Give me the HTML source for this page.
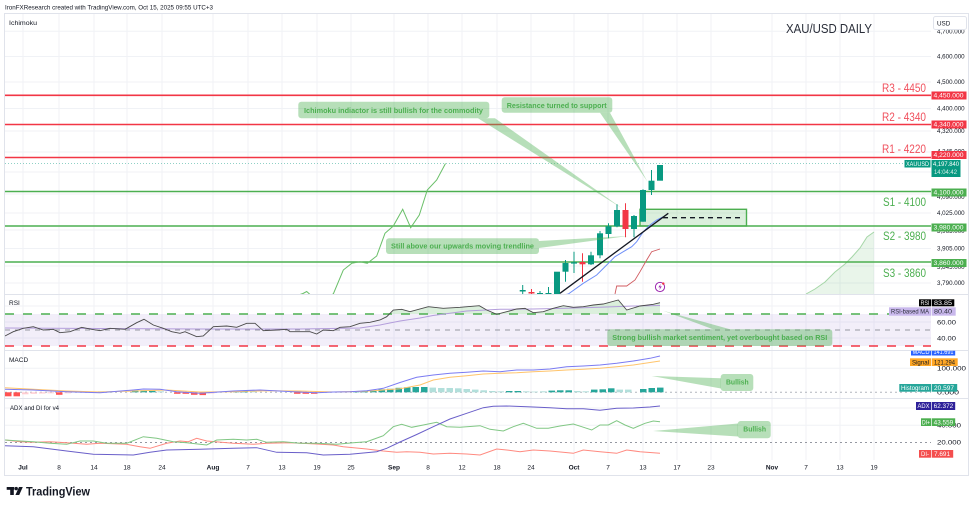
<!DOCTYPE html>
<html><head><meta charset="utf-8">
<style>
html,body{margin:0;padding:0;background:#fff;}
svg{display:block;font-family:"Liberation Sans",Arial,sans-serif;}
</style></head><body>
<svg width="975" height="507" viewBox="0 0 975 507" xmlns="http://www.w3.org/2000/svg">
<defs>
<clipPath id="main"><rect x="5" y="14" width="926" height="280"/></clipPath>
<clipPath id="rsi"><rect x="5" y="295" width="926" height="55"/></clipPath>
<clipPath id="ob"><rect x="5" y="295" width="926" height="19"/></clipPath>
<clipPath id="macdlab"><rect x="880" y="350.8" width="90" height="20"/></clipPath>
</defs>
<rect width="975" height="507" fill="#fff"/>
<text x="5" y="9.5" font-size="6.5" fill="#131722" textLength="208" lengthAdjust="spacingAndGlyphs">IronFXResearch created with TradingView.com, Oct 15, 2025 09:55 UTC+3</text>

<!-- frame -->
<rect x="4.5" y="13.5" width="964" height="462" fill="none" stroke="#e0e3eb" stroke-width="1"/>

<!-- vertical grid -->
<g stroke="#f0f2f6" stroke-width="1">
<line x1="23" y1="14" x2="23" y2="460"/><line x1="59" y1="14" x2="59" y2="460"/><line x1="94" y1="14" x2="94" y2="460"/><line x1="127" y1="14" x2="127" y2="460"/><line x1="162" y1="14" x2="162" y2="460"/><line x1="213" y1="14" x2="213" y2="460"/><line x1="248" y1="14" x2="248" y2="460"/><line x1="282" y1="14" x2="282" y2="460"/><line x1="317" y1="14" x2="317" y2="460"/><line x1="351" y1="14" x2="351" y2="460"/><line x1="394" y1="14" x2="394" y2="460"/><line x1="428" y1="14" x2="428" y2="460"/><line x1="462" y1="14" x2="462" y2="460"/><line x1="497" y1="14" x2="497" y2="460"/><line x1="531" y1="14" x2="531" y2="460"/><line x1="574" y1="14" x2="574" y2="460"/><line x1="608" y1="14" x2="608" y2="460"/><line x1="643" y1="14" x2="643" y2="460"/><line x1="677" y1="14" x2="677" y2="460"/><line x1="711" y1="14" x2="711" y2="460"/><line x1="772" y1="14" x2="772" y2="460"/><line x1="806" y1="14" x2="806" y2="460"/><line x1="840" y1="14" x2="840" y2="460"/><line x1="874" y1="14" x2="874" y2="460"/>
</g>
<!-- horizontal grid -->
<g stroke="#f0f2f6" stroke-width="1">
<line x1="5" y1="31.3" x2="931" y2="31.3"/><line x1="5" y1="56.5" x2="931" y2="56.5"/><line x1="5" y1="82" x2="931" y2="82"/><line x1="5" y1="108.5" x2="931" y2="108.5"/><line x1="5" y1="131" x2="931" y2="131"/><line x1="5" y1="152" x2="931" y2="152"/><line x1="5" y1="172" x2="931" y2="172"/><line x1="5" y1="194" x2="931" y2="194"/><line x1="5" y1="213" x2="931" y2="213"/><line x1="5" y1="230" x2="931" y2="230"/><line x1="5" y1="248.5" x2="931" y2="248.5"/><line x1="5" y1="266" x2="931" y2="266"/><line x1="5" y1="283" x2="931" y2="283"/>
<line x1="5" y1="306" x2="931" y2="306"/><line x1="5" y1="322" x2="931" y2="322"/><line x1="5" y1="338" x2="931" y2="338"/>
<line x1="5" y1="368.3" x2="931" y2="368.3"/>
<line x1="5" y1="408" x2="931" y2="408"/><line x1="5" y1="425.3" x2="931" y2="425.3"/>
</g>
<!-- pane separators -->
<g stroke="#e0e3eb" stroke-width="1">
<line x1="5" y1="294.5" x2="968" y2="294.5"/>
<line x1="5" y1="350.5" x2="968" y2="350.5"/>
<line x1="5" y1="398.5" x2="968" y2="398.5"/>
</g>

<!-- ===== MAIN PANE ===== -->
<text x="9" y="25" font-size="6.8" fill="#131722" textLength="28" lengthAdjust="spacingAndGlyphs">Ichimoku</text>
<text x="786" y="33" font-size="13" fill="#2a2e39" textLength="86" lengthAdjust="spacingAndGlyphs">XAU/USD DAILY</text>

<g clip-path="url(#main)">
<!-- cloud -->
<polygon points="806,294 815,289 825,282 835,272 845,264 852,257 860,248 867,237 874,232 874,294" fill="rgba(76,175,80,0.12)"/>
<polyline points="806,294 815,289 825,282 835,272 845,264 852,257 860,248 867,237 874,232" fill="none" stroke="#a5d6a7" stroke-width="1"/>
<!-- price line -->
<line x1="5" y1="163.5" x2="931" y2="163.5" stroke="#089981" stroke-opacity="0.45" stroke-width="1" stroke-dasharray="1 2"/>
<!-- level lines -->
<g stroke-width="1.6">
<line x1="5" y1="95.3" x2="931" y2="95.3" stroke="#f23645"/>
<line x1="5" y1="124.5" x2="931" y2="124.5" stroke="#f23645"/>
<line x1="5" y1="157.5" x2="931" y2="157.5" stroke="#f23645"/>
<line x1="5" y1="191.5" x2="931" y2="191.5" stroke="#4caf50"/>
<line x1="5" y1="226" x2="931" y2="226" stroke="#4caf50"/>
<line x1="5" y1="262" x2="931" y2="262" stroke="#4caf50"/>
</g>
<!-- lagging span -->
<polyline points="300,294.5 303,293.5 306.7,291.5 310,294.5" fill="none" stroke="#6abf69" stroke-width="1"/>
<polyline points="332,294.5 333.3,294 343.3,270 351.7,263.3 360,261.7 367.3,263.3 376.7,256 385,233.3 393.3,226 402.7,209.3 410.7,227.7 419.3,215 427.3,190 436.7,180 445.5,163.5" fill="none" stroke="#6abf69" stroke-width="1"/>
<!-- green box zone -->
<rect x="640" y="209.3" width="106.5" height="16.7" fill="rgba(76,175,80,0.2)" stroke="#4caf50" stroke-width="1.4"/>
<line x1="663" y1="217.7" x2="740" y2="217.7" stroke="#131722" stroke-width="1.3" stroke-dasharray="5 4"/>
<!-- red base line -->
<polyline points="615,294 616.7,286 626.7,286 635,280 640,271.7 646.7,260 651.7,251.7 660,249" fill="none" stroke="#d05a5f" stroke-width="0.9"/>
<!-- blue conversion line -->
<polyline points="566,294.5 568.3,294 583.3,283.3 596.7,275 606.7,265 615,256.7 623.3,251.7 631.7,246.7 636.7,241.7 643.3,231.7 650,225 656.7,220 663.3,216.7" fill="none" stroke="#6f8ff8" stroke-width="1"/>
<!-- candles -->
<g stroke-width="1">
<line x1="522.7" y1="285" x2="522.7" y2="294" stroke="#089981"/><rect x="519.7" y="290" width="6" height="1.5" fill="#089981"/>
<line x1="531.5" y1="289" x2="531.5" y2="294" stroke="#f23645"/><rect x="528.5" y="292" width="6" height="1.5" fill="#f23645"/>
<line x1="540" y1="291" x2="540" y2="294" stroke="#089981"/><rect x="537" y="293" width="6" height="1" fill="#089981"/>
<line x1="548.5" y1="287" x2="548.5" y2="294" stroke="#089981"/><rect x="545.5" y="293" width="6" height="1" fill="#089981"/>
<rect x="554" y="271.7" width="6" height="22.3" fill="#089981"/>
<line x1="565.5" y1="260" x2="565.5" y2="281.7" stroke="#089981"/><rect x="562.5" y="263" width="6" height="8.7" fill="#089981"/>
<line x1="574" y1="251.7" x2="574" y2="273" stroke="#089981"/><rect x="571" y="262.3" width="6" height="1.3" fill="#089981"/>
<line x1="582.5" y1="253.3" x2="582.5" y2="281.7" stroke="#f23645"/><rect x="579.5" y="262" width="6" height="2.3" fill="#f23645"/>
<line x1="591" y1="251.7" x2="591" y2="265" stroke="#089981"/><rect x="588" y="255.3" width="6" height="9" fill="#089981"/>
<line x1="600" y1="231" x2="600" y2="258.3" stroke="#089981"/><rect x="597" y="233.3" width="6" height="22" fill="#089981"/>
<line x1="608.5" y1="223.3" x2="608.5" y2="238.3" stroke="#089981"/><rect x="605.5" y="226.3" width="6" height="7.7" fill="#089981"/>
<line x1="617" y1="204.3" x2="617" y2="227.3" stroke="#089981"/><rect x="614" y="210" width="6" height="16.3" fill="#089981"/>
<line x1="625.5" y1="203.3" x2="625.5" y2="237.3" stroke="#f23645"/><rect x="622.5" y="210" width="6" height="19" fill="#f23645"/>
<line x1="634" y1="215" x2="634" y2="237.3" stroke="#089981"/><rect x="631" y="216" width="6" height="13" fill="#089981"/>
<line x1="643" y1="189.3" x2="643" y2="221.7" stroke="#089981"/><rect x="640" y="190" width="6" height="31.7" fill="#089981"/>
<line x1="651.5" y1="170" x2="651.5" y2="195" stroke="#089981"/><rect x="648.5" y="180.7" width="6" height="9.3" fill="#089981"/>
<rect x="657" y="165" width="6" height="15.7" fill="#089981"/>
</g>
<!-- trendline -->
<line x1="560" y1="293.3" x2="668.3" y2="213.3" stroke="#131722" stroke-width="1.3"/>
<!-- icon -->
<circle cx="660" cy="287" r="4.6" fill="#fff" stroke="#9c27b0" stroke-width="1"/>
<path d="M660.8 283.8 L658.4 287.4 L660.2 287.4 L659.2 290.2 L661.8 286.4 L660 286.4 Z" fill="#9c27b0"/>
<circle cx="663.3" cy="283.6" r="1.2" fill="#f23645"/>
</g>

<!-- level labels -->
<text x="882" y="92" font-size="11.5" fill="#f0505d" textLength="44" lengthAdjust="spacingAndGlyphs">R3 - 4450</text>
<text x="882" y="121" font-size="11.5" fill="#f0505d" textLength="44" lengthAdjust="spacingAndGlyphs">R2 - 4340</text>
<text x="882" y="153" font-size="11.5" fill="#f0505d" textLength="44" lengthAdjust="spacingAndGlyphs">R1 - 4220</text>
<text x="883" y="206" font-size="11.5" fill="#4caf50" textLength="43" lengthAdjust="spacingAndGlyphs">S1 - 4100</text>
<text x="883" y="240" font-size="11.5" fill="#4caf50" textLength="43" lengthAdjust="spacingAndGlyphs">S2 - 3980</text>
<text x="883" y="277" font-size="11.5" fill="#4caf50" textLength="43" lengthAdjust="spacingAndGlyphs">S3 - 3860</text>

<!-- annotations main -->
<g fill="rgba(76,175,80,0.4)">
<polygon points="478,118.3 495,118.3 622,208.3"/>
<rect x="298.3" y="101.7" width="191" height="16.6" rx="3"/>
<polygon points="600,112.7 610,112.7 647.5,181.7"/>
<rect x="501.7" y="97.3" width="110.6" height="15.4" rx="3"/>
<polygon points="539,241 539,248 628,236"/>
<rect x="386" y="238.3" width="153" height="15.7" rx="3"/>
</g>
<g font-size="7.6" font-weight="bold" fill="#4caf50">
<text x="304" y="112.8" textLength="179" lengthAdjust="spacingAndGlyphs">Ichimoku indiactor is still bullish for the commodity</text>
<text x="506.7" y="107.8" textLength="100" lengthAdjust="spacingAndGlyphs">Resistance turned to support</text>
<text x="391" y="248.5" textLength="143" lengthAdjust="spacingAndGlyphs">Still above our upwards moving trendline</text>
</g>

<!-- main price axis labels -->
<g font-size="6.3" fill="#131722">
<text x="937" y="33.5" textLength="27.6" lengthAdjust="spacingAndGlyphs">4,700.000</text>
<text x="937" y="58.7" textLength="27.6" lengthAdjust="spacingAndGlyphs">4,600.000</text>
<text x="937" y="84.2" textLength="27.6" lengthAdjust="spacingAndGlyphs">4,500.000</text>
<text x="937" y="110.7" textLength="27.6" lengthAdjust="spacingAndGlyphs">4,400.000</text>
<text x="937" y="133" textLength="27.6" lengthAdjust="spacingAndGlyphs">4,320.000</text>
<text x="937" y="153.5" textLength="27.6" lengthAdjust="spacingAndGlyphs">4,245.000</text>
<text x="937" y="199" textLength="27.6" lengthAdjust="spacingAndGlyphs">4,090.000</text>
<text x="937" y="215.2" textLength="27.6" lengthAdjust="spacingAndGlyphs">4,025.000</text>
<text x="937" y="233" textLength="27.6" lengthAdjust="spacingAndGlyphs">3,965.000</text>
<text x="937" y="250.7" textLength="27.6" lengthAdjust="spacingAndGlyphs">3,905.000</text>
<text x="937" y="269" textLength="27.6" lengthAdjust="spacingAndGlyphs">3,845.000</text>
<text x="937" y="285.2" textLength="27.6" lengthAdjust="spacingAndGlyphs">3,790.000</text>
</g>
<rect x="933.5" y="16.5" width="33" height="13" rx="2" fill="#fff" stroke="#e0e3eb"/>
<text x="937" y="25.3" font-size="6.3" fill="#131722">USD</text>

<g font-size="6.3" fill="#fff">
<rect x="931.5" y="91.5" width="35" height="8" fill="#f23645"/><text x="933.5" y="97.7" textLength="30" lengthAdjust="spacingAndGlyphs">4,450.000</text>
<rect x="931.5" y="120.5" width="35" height="8" fill="#f23645"/><text x="933.5" y="126.7" textLength="30" lengthAdjust="spacingAndGlyphs">4,340.000</text>
<rect x="931.5" y="151" width="35" height="8" fill="#f23645"/><text x="933.5" y="157.2" textLength="30" lengthAdjust="spacingAndGlyphs">4,220.000</text>
<rect x="904.5" y="160" width="26" height="7.5" fill="#089981"/><text x="906" y="165.8" textLength="23" lengthAdjust="spacingAndGlyphs">XAUUSD</text>
<rect x="931.5" y="160" width="29" height="17" fill="#089981"/><text x="933" y="166" textLength="26" lengthAdjust="spacingAndGlyphs">4,197.840</text>
<text x="934" y="174" textLength="23" lengthAdjust="spacingAndGlyphs" fill="#d8f0ea">14:04:42</text>
<rect x="931.5" y="188.5" width="35" height="8" fill="#4caf50"/><text x="933.5" y="194.7" textLength="30" lengthAdjust="spacingAndGlyphs">4,100.000</text>
<rect x="931.5" y="223.5" width="35" height="8" fill="#4caf50"/><text x="933.5" y="229.7" textLength="30" lengthAdjust="spacingAndGlyphs">3,980.000</text>
<rect x="931.5" y="259" width="35" height="8" fill="#4caf50"/><text x="933.5" y="265.2" textLength="30" lengthAdjust="spacingAndGlyphs">3,860.000</text>
</g>

<!-- ===== RSI PANE ===== -->
<text x="9" y="305" font-size="6.5" fill="#131722">RSI</text>
<g clip-path="url(#rsi)">
<rect x="5" y="314" width="926" height="32" fill="rgba(126,87,194,0.1)"/>
<g clip-path="url(#ob)">
<polygon points="386.7,316.7 393.3,310 401.7,309.3 410,311.7 428.3,306.7 443.3,308.3 460,307.3 479.3,305.7 486.7,310 496.7,314.3 506.7,311.7 516.7,309 525,308.3 533.3,312.7 543.3,311.7 553.3,308.3 563.3,305.7 573.3,307.3 583.3,306.7 593.3,305 603.3,304 618.3,300 626.7,310 640,306 653.3,304.3 660,302.7 660,314 386.7,314" fill="rgba(76,175,80,0.2)"/>
</g>
<line x1="5" y1="314" x2="931" y2="314" stroke="#4caf50" stroke-width="1.6" stroke-dasharray="9 9"/>
<line x1="5" y1="330" x2="931" y2="330" stroke="#9598a1" stroke-width="1" stroke-dasharray="5 5"/>
<line x1="5" y1="346" x2="931" y2="346" stroke="#f23645" stroke-width="1.6" stroke-dasharray="9 9"/>
<polyline points="5,328 100,328.5 200,329 300,329 360,328 380,325 400,321 420,318 433,315.5 466.7,311 500,309.3 533,309 566.7,308.3 600,307.3 633,306 660,305.5" fill="none" stroke="#b39ddb" stroke-width="1"/>
<polyline points="5,336 13.3,331.7 23.3,328.3 33.3,326.7 43.3,330 53.3,329.3 60,332.7 70,331.7 81.7,327.3 91.7,329.3 100,330.7 110,328.3 125,329.3 136.7,322.7 144,319.3 153.3,325 163.3,328.3 171.7,331.7 180,333.3 185,331.7 196.7,336.7 203.3,336 213.3,326.7 226.7,326 236.7,327.3 246.7,323.3 255,323.3 263.3,330.7 276.7,330 286.7,329.3 290,331.7 310,331.7 316.7,334 323.3,330 333.3,330.7 340,327.3 350,326.7 360,323.3 370,322.3 380,320 386.7,316.7 393.3,310 401.7,309.3 410,311.7 428.3,306.7 443.3,308.3 460,307.3 479.3,305.7 486.7,310 496.7,314.3 506.7,311.7 516.7,309 525,308.3 533.3,312.7 543.3,311.7 553.3,308.3 563.3,305.7 573.3,307.3 583.3,306.7 593.3,305 603.3,304 618.3,300 626.7,310 640,306 653.3,304.3 660,302.7" fill="none" stroke="#4a4a4a" stroke-width="0.9"/>
</g>
<polygon points="713,329.3 730,329.3 663.3,310.7" fill="rgba(76,175,80,0.4)"/>
<rect x="607.3" y="329.3" width="225" height="16.7" rx="3" fill="rgba(76,175,80,0.4)"/>
<text x="612.3" y="340" font-size="7.6" font-weight="bold" fill="#4caf50" textLength="215" lengthAdjust="spacingAndGlyphs">Strong bullish market sentiment, yet overbought based on RSI</text>
<g font-size="6.3" fill="#131722">
<text x="937" y="324.3" textLength="19" lengthAdjust="spacingAndGlyphs">60.00</text>
<text x="937" y="340.3" textLength="19" lengthAdjust="spacingAndGlyphs">40.00</text>
</g>
<g font-size="6.3">
<rect x="919" y="299.3" width="12" height="7" fill="#000"/><text x="920.5" y="305" fill="#fff" textLength="9" lengthAdjust="spacingAndGlyphs">RSI</text>
<rect x="931.7" y="299.3" width="22.6" height="7" fill="#000"/><text x="934" y="305" fill="#fff" textLength="18" lengthAdjust="spacingAndGlyphs">83.85</text>
<rect x="889" y="307.3" width="42" height="8.4" fill="#c9b8ec"/><text x="891" y="313.5" fill="#2a2e39" textLength="38" lengthAdjust="spacingAndGlyphs">RSI-based MA</text>
<rect x="931.7" y="307.3" width="24" height="8.4" fill="#c9b8ec"/><text x="934" y="313.5" fill="#2a2e39" textLength="18" lengthAdjust="spacingAndGlyphs">80.40</text>
</g>

<!-- ===== MACD PANE ===== -->
<text x="9" y="362" font-size="6.5" fill="#131722">MACD</text>
<line x1="5" y1="392.3" x2="931" y2="392.3" stroke="#b2b5be" stroke-width="1" stroke-dasharray="2 3"/>
<!-- histogram -->
<g>
<rect x="5" y="392.3" width="6.5" height="4" fill="#ff5252"/>
<rect x="13.5" y="392.3" width="6.5" height="4" fill="#ff5252"/>
<rect x="22" y="392.3" width="6.5" height="2" fill="#ffcdd2"/>
<rect x="30.5" y="392.3" width="6.5" height="1.5" fill="#ffcdd2"/>
<rect x="39" y="392.3" width="6.5" height="1.2" fill="#ffcdd2"/>
<rect x="47.5" y="392.3" width="6.5" height="1" fill="#ffcdd2"/>
<rect x="56" y="392.3" width="6.5" height="2.5" fill="#ff5252"/>
<rect x="64.5" y="392.3" width="6.5" height="1" fill="#ffcdd2"/>
<rect x="98" y="391.3" width="6.5" height="1" fill="#b2dfdb"/>
<rect x="106.5" y="391.3" width="6.5" height="1" fill="#b2dfdb"/>
<rect x="132" y="390.3" width="6.5" height="2" fill="#26a69a"/>
<rect x="140.5" y="390.3" width="6.5" height="2" fill="#26a69a"/>
<rect x="149" y="390.8" width="6.5" height="1.5" fill="#26a69a"/>
<rect x="157.5" y="391.3" width="6.5" height="1" fill="#b2dfdb"/>
<rect x="174" y="392.3" width="6.5" height="1.5" fill="#ff5252"/>
<rect x="182.5" y="392.3" width="6.5" height="1.5" fill="#ff5252"/>
<rect x="191" y="392.3" width="6.5" height="2.5" fill="#ff5252"/>
<rect x="199.5" y="392.3" width="6.5" height="2.8" fill="#ff5252"/>
<rect x="208" y="392.3" width="6.5" height="1.2" fill="#ffcdd2"/>
<rect x="233" y="391.3" width="6.5" height="1" fill="#26a69a"/>
<rect x="241.5" y="391.3" width="6.5" height="1" fill="#26a69a"/>
<rect x="250" y="391.3" width="6.5" height="1" fill="#b2dfdb"/>
<rect x="294" y="392.3" width="6.5" height="1.5" fill="#ff5252"/>
<rect x="302.5" y="392.3" width="6.5" height="1.5" fill="#ff5252"/>
<rect x="311" y="392.3" width="6.5" height="1.5" fill="#ff5252"/>
<rect x="353" y="391.3" width="6.5" height="1" fill="#26a69a"/>
<rect x="361.5" y="390.8" width="6.5" height="1.5" fill="#26a69a"/>
<rect x="370" y="390.3" width="6.5" height="2" fill="#26a69a"/>
<rect x="378.5" y="389.3" width="6.5" height="3" fill="#26a69a"/>
<rect x="387" y="388.8" width="6.5" height="3.5" fill="#26a69a"/>
<rect x="395.5" y="387.8" width="6.5" height="4.5" fill="#26a69a"/>
<rect x="404" y="387.3" width="6.5" height="5" fill="#26a69a"/>
<rect x="412.5" y="387" width="6.5" height="5.3" fill="#26a69a"/>
<rect x="421" y="387" width="6.5" height="5.3" fill="#26a69a"/>
<rect x="429.5" y="387.6" width="6.5" height="4.7" fill="#b2dfdb"/>
<rect x="438" y="388" width="6.5" height="4.3" fill="#b2dfdb"/>
<rect x="446.5" y="388" width="6.5" height="4.3" fill="#b2dfdb"/>
<rect x="455" y="388.3" width="6.5" height="4" fill="#b2dfdb"/>
<rect x="463.5" y="389" width="6.5" height="3.3" fill="#b2dfdb"/>
<rect x="472" y="389.6" width="6.5" height="2.7" fill="#b2dfdb"/>
<rect x="480.5" y="390.3" width="6.5" height="2" fill="#b2dfdb"/>
<rect x="489" y="391" width="6.5" height="1.3" fill="#b2dfdb"/>
<rect x="497.5" y="391.3" width="6.5" height="1" fill="#b2dfdb"/>
<rect x="506" y="391" width="6.5" height="1.3" fill="#26a69a"/>
<rect x="514.5" y="391" width="6.5" height="1.3" fill="#26a69a"/>
<rect x="523" y="391.3" width="6.5" height="1" fill="#b2dfdb"/>
<rect x="531.5" y="391.6" width="6.5" height="0.7" fill="#b2dfdb"/>
<rect x="540" y="391.3" width="6.5" height="1" fill="#b2dfdb"/>
<rect x="548.5" y="390.6" width="6.5" height="1.7" fill="#26a69a"/>
<rect x="557" y="390.3" width="6.5" height="2" fill="#26a69a"/>
<rect x="565.5" y="390.3" width="6.5" height="2" fill="#26a69a"/>
<rect x="574" y="391" width="6.5" height="1.3" fill="#b2dfdb"/>
<rect x="582.5" y="391.3" width="6.5" height="1" fill="#b2dfdb"/>
<rect x="591" y="389.6" width="6.5" height="2.7" fill="#26a69a"/>
<rect x="599.5" y="389.3" width="6.5" height="3" fill="#26a69a"/>
<rect x="608" y="388.3" width="6.5" height="4" fill="#26a69a"/>
<rect x="616.5" y="389.6" width="6.5" height="2.7" fill="#b2dfdb"/>
<rect x="625" y="389.6" width="6.5" height="2.7" fill="#b2dfdb"/>
<rect x="640" y="389" width="6.5" height="3.3" fill="#26a69a"/>
<rect x="648.5" y="388" width="6.5" height="4.3" fill="#26a69a"/>
<rect x="657" y="387.6" width="6.5" height="4.7" fill="#26a69a"/>
</g>
<polyline points="5,387.7 33.3,389.3 66.7,391 100,392 133.3,391 166.7,390 200,392 233.3,391.7 266.7,390.7 300,391 333.3,392 366.7,391.3 400,388.7 420,385 433.3,380 450,377.3 466.7,375.7 483.3,374 500,373.3 516.7,372.7 533.3,371.7 550,371 566.7,370 583.3,369.3 600,368.3 616.7,366.7 633.3,365 660,361" fill="none" stroke="#ffc46b" stroke-width="1"/>
<polyline points="5,389.3 33,390 66.7,391.7 100,392.7 133.3,390 143.3,389 160,389.3 176.7,391.7 200,393.3 233.3,391 260,390 293.3,391.7 316.7,392.7 333.3,392 350,391.7 366.7,390.7 383.3,388.3 400,382.5 416.7,377.3 433.3,375 450,373.3 466.7,372.3 483.3,371 500,371.7 516.7,370 533.3,370 550,369 566.7,366.7 583.3,366 600,365 616.7,363.3 633.3,361 650,358.3 660,356" fill="none" stroke="#7b7bf2" stroke-width="1"/>
<polygon points="651.7,376 721,378.3 721,388.5" fill="rgba(76,175,80,0.4)"/>
<rect x="720.7" y="374" width="32.6" height="17" rx="3" fill="rgba(76,175,80,0.4)"/>
<text x="726" y="384.5" font-size="7.6" font-weight="bold" fill="#4caf50" textLength="22.7" lengthAdjust="spacingAndGlyphs">Bullish</text>
<g font-size="6.3" fill="#131722">
<text x="937" y="370.5" textLength="29" lengthAdjust="spacingAndGlyphs">100.000</text>
<text x="937" y="394.5" textLength="22" lengthAdjust="spacingAndGlyphs">0.000</text>
</g>
<g font-size="6.3" clip-path="url(#macdlab)">
<rect x="911" y="348" width="20" height="7.5" fill="#2962ff"/><text x="912.5" y="354" fill="#fff" textLength="17" lengthAdjust="spacingAndGlyphs">MACD</text>
<rect x="931.7" y="348" width="23.5" height="7.5" fill="#2962ff"/><text x="933.5" y="354" fill="#fff" textLength="20" lengthAdjust="spacingAndGlyphs">141.691</text>
</g>
<g font-size="6.3">
<rect x="910" y="358.3" width="21" height="7.7" fill="#ffa726"/><text x="912" y="364.3" fill="#131722" textLength="17" lengthAdjust="spacingAndGlyphs">Signal</text>
<rect x="931.7" y="358.3" width="26" height="7.7" fill="#ffa726"/><text x="934" y="364.3" fill="#131722" textLength="21" lengthAdjust="spacingAndGlyphs">121.294</text>
<rect x="899.3" y="384" width="31.7" height="7.7" fill="#26a69a"/><text x="901" y="390" fill="#fff" textLength="28" lengthAdjust="spacingAndGlyphs">Histogram</text>
<rect x="931.7" y="384" width="25.5" height="7.7" fill="#26a69a"/><text x="934" y="390" fill="#fff" textLength="20" lengthAdjust="spacingAndGlyphs">20.597</text>
</g>

<!-- ===== ADX PANE ===== -->
<text x="10" y="410" font-size="6.5" fill="#131722" textLength="49" lengthAdjust="spacingAndGlyphs">ADX and DI for v4</text>
<line x1="5" y1="442.5" x2="931" y2="442.5" stroke="#9598a1" stroke-width="1" stroke-dasharray="2 3"/>
<polyline points="5,440 20,441.7 33.3,442.3 50,441.7 66.7,442.7 86.7,444.3 100,443.3 126.7,444.3 140,446.7 150,448.3 166.7,443.3 180,441 188.3,441.7 196.7,438.3 206.7,441 233.3,443.3 253.3,444.3 266.7,443.3 290,442.7 316.7,444 333.3,445 343.3,446.7 366.7,449 383.3,451 396.7,452.3 406.7,451.7 420,452.3 433.3,454 450,453.3 466.7,454 480,455 496.7,449 506.7,450 520,451.7 533.3,450 550,451 573.3,453.3 583.3,450 600,451.7 616.7,453.3 626.7,450 640,451.7 660,453.3" fill="none" stroke="#ff8a80" stroke-width="1"/>
<polyline points="5,440 20,441 33.3,441.7 50,443.3 66.7,444.3 80,441 93.3,441 106.7,443.3 126.7,443.3 143.3,436.7 156.7,438.3 173.3,441.7 186.7,442.7 200,444.3 206.7,445 216.7,440 233.3,439.3 246.7,440 256.7,439.3 266.7,442.3 283.3,441.7 300,443.3 316.7,443.3 336.7,444.3 353.3,442.7 366.7,441.7 383.3,435.7 393.3,426.7 401.7,424.3 411.7,427.3 423.3,425 436.7,422.3 446.7,426.7 460,427.3 480,425.7 490,429.3 503.3,431 513.3,426.7 523.3,423.3 536.7,428.3 548.3,428.3 560,426 573.3,424 581.7,426.7 591.7,430 600,425 608.3,425 616.7,420.7 625,425 633.3,428.3 645,423.3 653.3,421 660,421.7" fill="none" stroke="#81c784" stroke-width="1"/>
<polyline points="5,445.7 33.3,446.7 66.7,451 93.3,454.3 133.3,455 150,452.3 166.7,450 200,449.3 233.3,448.3 256.7,447.7 276.7,452.3 306.7,452.7 323.3,455 350,454.3 376.7,451.7 386.7,448.3 400,442 416.7,434.5 433.3,426.7 450,419 466.7,413.3 483.3,407.7 493.3,406.3 506.7,406 533.3,407 550,407.7 566.7,408.7 583.3,408.7 600,410.3 616.7,408.3 633.3,408 650,407 660,406" fill="none" stroke="#6a5fc9" stroke-width="1"/>
<polygon points="653,431 738,423.5 738,436.5" fill="rgba(76,175,80,0.4)"/>
<rect x="737.7" y="421" width="33" height="17.3" rx="3" fill="rgba(76,175,80,0.4)"/>
<text x="743.3" y="431.7" font-size="7.6" font-weight="bold" fill="#4caf50" textLength="22.7" lengthAdjust="spacingAndGlyphs">Bullish</text>
<g font-size="6.3" fill="#131722">
<text x="937" y="427.5" textLength="24" lengthAdjust="spacingAndGlyphs">40.000</text>
<text x="937" y="444.7" textLength="24" lengthAdjust="spacingAndGlyphs">20.000</text>
</g>
<g font-size="6.3" fill="#fff">
<rect x="916" y="402" width="15" height="8" fill="#2e2199"/><text x="917.5" y="408.2" textLength="12" lengthAdjust="spacingAndGlyphs">ADX</text>
<rect x="931.7" y="402" width="23.5" height="8" fill="#2e2199"/><text x="933.7" y="408.2" textLength="19.5" lengthAdjust="spacingAndGlyphs">62.372</text>
<rect x="921" y="418.3" width="10" height="7.7" fill="#4caf50"/><text x="922" y="424.3" textLength="8" lengthAdjust="spacingAndGlyphs">DI+</text>
<rect x="931.7" y="418.3" width="23.5" height="7.7" fill="#4caf50"/><text x="933.7" y="424.3" textLength="19.5" lengthAdjust="spacingAndGlyphs">43.559</text>
<rect x="919" y="450" width="12" height="7.7" fill="#f44e4e"/><text x="921" y="456" textLength="8" lengthAdjust="spacingAndGlyphs">DI-</text>
<rect x="931.7" y="450" width="21.5" height="7.7" fill="#f44e4e"/><text x="934" y="456" textLength="16" lengthAdjust="spacingAndGlyphs">7.691</text>
</g>

<!-- time axis -->
<g font-size="6.5" fill="#131722" text-anchor="middle">
<text x="23" y="469.5" font-weight="bold">Jul</text>
<text x="59" y="469.5">8</text>
<text x="94" y="469.5">14</text>
<text x="127" y="469.5">18</text>
<text x="162" y="469.5">24</text>
<text x="213" y="469.5" font-weight="bold">Aug</text>
<text x="248" y="469.5">7</text>
<text x="282" y="469.5">13</text>
<text x="317" y="469.5">19</text>
<text x="351" y="469.5">25</text>
<text x="394" y="469.5" font-weight="bold">Sep</text>
<text x="428" y="469.5">8</text>
<text x="462" y="469.5">12</text>
<text x="497" y="469.5">18</text>
<text x="531" y="469.5">24</text>
<text x="574" y="469.5" font-weight="bold">Oct</text>
<text x="608" y="469.5">7</text>
<text x="643" y="469.5">13</text>
<text x="677" y="469.5">17</text>
<text x="711" y="469.5">23</text>
<text x="772" y="469.5" font-weight="bold">Nov</text>
<text x="806" y="469.5">7</text>
<text x="840" y="469.5">13</text>
<text x="874" y="469.5">19</text>
</g>

<!-- TradingView logo -->
<g fill="#131722">
<rect x="6.7" y="487" width="7.5" height="2.8"/>
<rect x="10.2" y="487" width="3.6" height="8"/>
<circle cx="16.2" cy="488.6" r="1.7"/>
<polygon points="19,487 22.8,487 19.2,495 15.4,495"/>
</g>
<text x="26" y="495.5" font-size="11.5" font-weight="bold" fill="#131722" textLength="64" lengthAdjust="spacingAndGlyphs">TradingView</text>
</svg>
</body></html>
